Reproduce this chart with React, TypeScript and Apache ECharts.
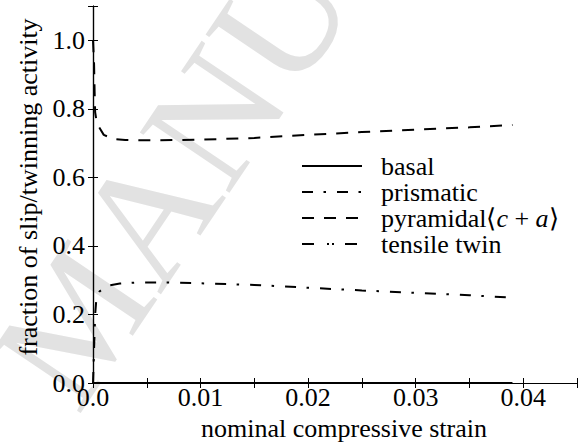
import React, { useEffect, useRef } from "react";
import * as echarts from "echarts";

// nominal compressive strain vs. fraction of slip / twinning activity
const pyramidal: [number, number][] = [
  [0, 1.0], [0.0001, 0.93], [0.00015, 0.85], [0.0002, 0.79], [0.0003, 0.77],
  [0.00055, 0.747], [0.001, 0.724], [0.0019, 0.712], [0.003, 0.709],
  [0.006, 0.708], [0.01, 0.71], [0.015, 0.715], [0.02, 0.724], [0.025, 0.732],
  [0.03, 0.739], [0.035, 0.746], [0.039, 0.753],
];

const prismatic: [number, number][] = [
  [0, 0.0], [0.0001, 0.1], [0.0002, 0.2], [0.0003, 0.24], [0.0006, 0.267],
  [0.0013, 0.284], [0.0025, 0.29], [0.004, 0.293], [0.007, 0.293],
  [0.01, 0.291], [0.015, 0.286], [0.02, 0.278], [0.025, 0.27],
  [0.03, 0.263], [0.035, 0.256], [0.039, 0.249],
];

const basal: [number, number][] = [
  [0, 0.0], [0.01, 0.0], [0.02, 0.0], [0.03, 0.0], [0.039, 0.0],
];

const tensileTwin: [number, number][] = [
  [0, 0.0], [0.01, 0.0], [0.02, 0.0], [0.03, 0.0], [0.039, 0.0],
];

const seriesNames = ["basal", "prismatic", "pyramidal⟨c + a⟩", "tensile twin"];

const FONT = "'Liberation Serif', 'Times New Roman', Times, serif";
const FS = 26;

export default function App() {
  const ref = useRef<HTMLDivElement>(null);

  useEffect(() => {
    if (!ref.current) return;
    const chart = echarts.init(ref.current, undefined, { renderer: "svg" });

    const xTickLabel = (v: number) => {
      const k = Math.round(v * 1000);
      if (k % 10 !== 0) return "";
      return k === 0 ? "0.0" : v.toFixed(2);
    };
    const yTickLabel = (v: number) => {
      const k = Math.round(v * 10);
      if (k % 2 !== 0) return "";
      return v.toFixed(1);
    };

    const axisLine = { show: true, lineStyle: { color: "#000", width: 1.2 } };
    const tick = { show: true, inside: true, length: 5, lineStyle: { color: "#000", width: 1 } };

    const lineSeries = (name: string, data: [number, number][], type: any) => ({
      name,
      type: "line",
      data,
      symbol: "none",
      smooth: false,
      lineStyle: { color: "#000", width: 2, type },
      itemStyle: { color: "#000" },
    });

    const titleStyle = { fontFamily: FONT, fontSize: FS, fill: "#000" };

    chart.setOption({
      animation: false,
      backgroundColor: "#fff",
      grid: { left: 93, top: 6, right: 2, bottom: 63, containLabel: false },
      xAxis: [
        {
          type: "value",
          position: "bottom",
          min: 0,
          max: 0.045,
          interval: 0.005,
          axisLine,
          axisTick: tick,
          splitLine: { show: false },
          axisLabel: {
            formatter: xTickLabel,
            fontFamily: FONT,
            fontSize: FS,
            color: "#000",
            margin: 1,
            hideOverlap: false,
          },
        },
        {
          type: "value",
          position: "top",
          min: 0,
          max: 0.045,
          interval: 0.005,
          axisLine,
          axisTick: tick,
          splitLine: { show: false },
          axisLabel: { show: false },
        },
      ],
      yAxis: [
        {
          type: "value",
          position: "left",
          min: 0,
          max: 1.1,
          interval: 0.2,
          axisLine,
          axisTick: tick,
          splitLine: { show: false },
          axisLabel: {
            formatter: yTickLabel,
            fontFamily: FONT,
            fontSize: FS,
            color: "#000",
            margin: 8,
            hideOverlap: false,
          },
        },
        {
          type: "value",
          position: "right",
          min: 0,
          max: 1.1,
          interval: 0.2,
          axisLine,
          axisTick: tick,
          splitLine: { show: false },
          axisLabel: { show: false },
        },
      ],
      legend: {
        orient: "vertical",
        left: 296,
        top: 148,
        itemWidth: 60,
        itemHeight: 14,
        itemGap: 0,
        data: seriesNames,
        itemStyle: { opacity: 0 },
        formatter: (name: string) =>
          name === seriesNames[2] ? "pyramidal⟨{i|c} + {i|a}⟩" : name,
        textStyle: {
          fontFamily: FONT,
          fontSize: FS,
          color: "#000",
          lineHeight: 24,
          padding: [0, 0, 0, 14],
          rich: {
            i: { fontFamily: FONT, fontSize: FS, fontStyle: "italic", color: "#000", lineHeight: 24 },
          },
        },
      },
      graphic: [
        {
          type: "text",
          z: -10,
          silent: true,
          x: 32,
          y: 386,
          rotation: (56 * Math.PI) / 180,
          style: {
            text: "MANUSCRIPT",
            fontFamily: FONT,
            fontSize: 165,
            fill: "#e2e2e2",
            align: "left",
            verticalAlign: "middle",
          },
        },
        {
          type: "text",
          silent: true,
          x: 28,
          y: 187,
          rotation: Math.PI / 2,
          style: {
            ...titleStyle,
            text: "fraction of slip/twinning activity",
            align: "center",
            verticalAlign: "middle",
          },
        },
        {
          type: "text",
          silent: true,
          x: 344,
          y: 428,
          style: {
            ...titleStyle,
            text: "nominal compressive strain",
            align: "center",
            verticalAlign: "middle",
          },
        },
      ],
      series: [
        lineSeries(seriesNames[0], basal, "solid"),
        lineSeries(seriesNames[1], prismatic, [11, 10.5, 2.5, 11]),
        lineSeries(seriesNames[2], pyramidal, [12, 10]),
        lineSeries(seriesNames[3], tensileTwin, [12, 13, 2, 3, 2, 11]),
      ],
    });

    return () => chart.dispose();
  }, []);

  return (
    <div
      ref={ref}
      style={{ position: "absolute", left: 0, top: 0, width: 580, height: 446 }}
    />
  );
}
